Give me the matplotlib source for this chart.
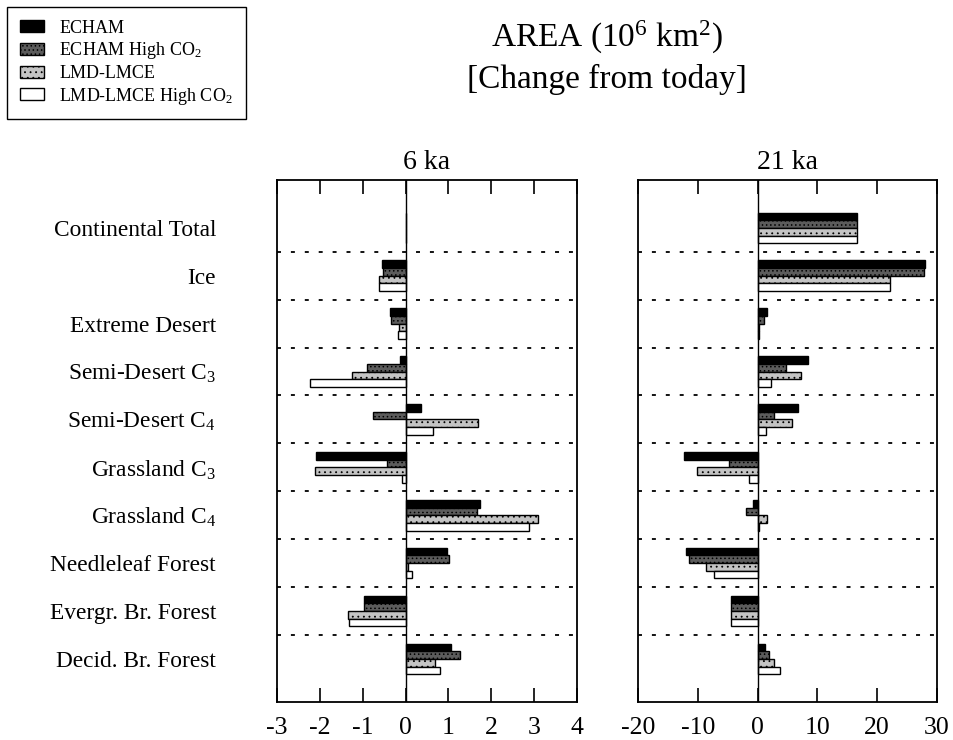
import numpy as np
import matplotlib
matplotlib.use("Agg")
import matplotlib.pyplot as plt

plt.rcParams['font.family'] = ['Liberation Serif', 'DejaVu Serif']
plt.rcParams['mathtext.fontset'] = 'custom'
plt.rcParams['mathtext.rm'] = 'Liberation Serif'
plt.rcParams['mathtext.it'] = 'Liberation Serif:italic'
plt.rcParams['axes.unicode_minus'] = False
plt.rcParams['hatch.linewidth'] = 0.6

categories = ['Continental Total', 'Ice', 'Extreme Desert', r'Semi-Desert C$_3$',
              r'Semi-Desert C$_4$', r'Grassland C$_3$', r'Grassland C$_4$',
              'Needleleaf Forest', 'Evergr. Br. Forest', 'Decid. Br. Forest']
series = ['ECHAM', r'ECHAM High CO$_2$', 'LMD-LMCE', r'LMD-LMCE High CO$_2$']

# 6 ka
echam_6 = [0, -0.55, -0.37, -0.13, 0.35, -2.08, 1.73, 0.96, -0.96, 1.07]
echam_co2_6 = [0, -0.52, -0.35, -0.89, -0.75, -0.43, 1.66, 1.02, -0.96, 1.26]
lmd_6 = [0, -0.62, -0.16, -1.24, 1.70, -2.12, 3.10, 0.06, -1.35, 0.68]
lmd_co2_6 = [0, -0.62, -0.18, -2.23, 0.64, -0.09, 2.89, 0.16, -1.32, 0.80]

# 21 ka
echam_21 = [16.7, 28.0, 1.5, 8.4, 6.7, -12.3, -0.7, -12.0, -4.4, 1.3]
echam_co2_21 = [16.7, 27.9, 1.0, 4.8, 2.8, -4.8, -2.0, -11.4, -4.4, 1.9]
lmd_21 = [16.7, 22.1, 0.2, 7.2, 5.8, -10.2, 1.5, -8.6, -4.4, 2.8]
lmd_co2_21 = [16.6, 22.2, 0.2, 2.3, 1.4, -1.5, 0.3, -7.3, -4.4, 3.7]

styles = [dict(facecolor='black', edgecolor='black'),
          dict(facecolor='#5c5c5c', edgecolor='black', hatch='....'),
          dict(facecolor='#c4c4c4', edgecolor='black', hatch='...'),
          dict(facecolor='white', edgecolor='black')]

fig = plt.figure(figsize=(9.54, 7.4), dpi=100)
ax1 = fig.add_axes([0.2904, 0.0514, 0.3145, 0.7054])
ax2 = fig.add_axes([0.6688, 0.0514, 0.3134, 0.7054])

y = np.arange(len(categories))
h = 0.16
offsets = [-0.24, -0.08, 0.08, 0.24]

panels = [(ax1, [echam_6, echam_co2_6, lmd_6, lmd_co2_6], (-3, 4), range(-3, 5), '6 ka'),
          (ax2, [echam_21, echam_co2_21, lmd_21, lmd_co2_21], (-20, 30), range(-20, 31, 10), '21 ka')]

handles = []
for ax, data, xlim, ticks, title in panels:
    for vals, off, st in zip(data, offsets, styles):
        b = ax.barh(y + off, vals, height=h, linewidth=1.0, **st)
        if ax is ax1:
            handles.append(b)
    for yy in np.arange(0.5, 9, 1):
        ax.axhline(yy, color='black', linestyle=(0, (2.2, 5.5)), linewidth=1.3)
    ax.axvline(0, color='black', linewidth=1.0)
    ax.set_xlim(*xlim)
    ax.set_ylim(9.9, -1.0)
    ax.set_xticks(list(ticks))
    ax.tick_params(axis='x', direction='in', top=True, length=10, width=1.2,
                   labelsize=18.5, pad=11)
    ax.set_title(title, fontsize=20, pad=8)
    for s in ax.spines.values():
        s.set_linewidth(1.3)

ax1.set_yticks(y)
ax1.set_yticklabels(categories, fontsize=16.8)
ax1.tick_params(axis='y', length=0, pad=44)
ax2.set_yticks([])

fig.text(0.636, 0.9365, r'AREA (10$^6$ km$^2$)', ha='center', va='baseline', fontsize=24)
fig.text(0.636, 0.881, '[Change from today]', ha='center', va='baseline', fontsize=24)

leg = fig.legend(handles, series, loc='upper left', bbox_to_anchor=(0.0073, 0.9905),
                 borderaxespad=0, fontsize=13, frameon=True, fancybox=False,
                 edgecolor='black', framealpha=1, handlelength=1.35, handleheight=0.65,
                 handletextpad=0.85, borderpad=0.7, labelspacing=0.2)
leg.get_frame().set_linewidth(1.0)

fig.savefig('out.png', dpi=100)
